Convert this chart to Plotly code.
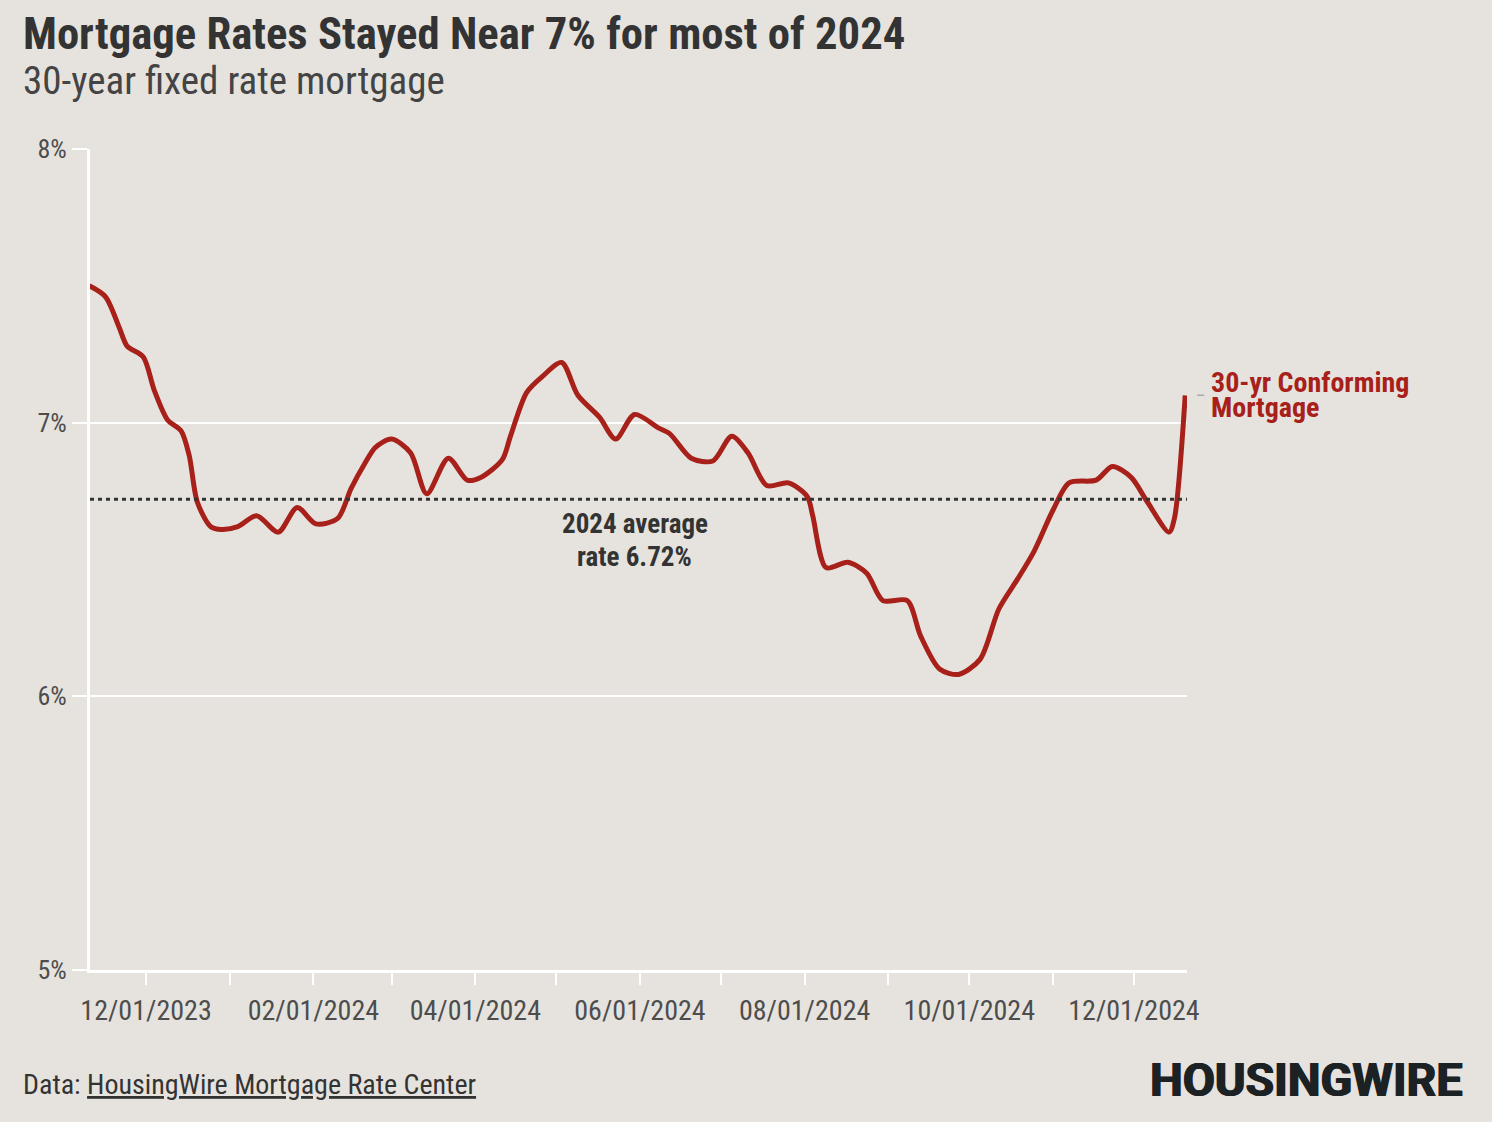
import plotly.graph_objects as go

# ---- data ----
dates = [
    "2023-11-10", "2023-11-16", "2023-11-21", "2023-11-24", "2023-11-30",
    "2023-12-04", "2023-12-09", "2023-12-14", "2023-12-17", "2023-12-20",
    "2023-12-25", "2023-12-29", "2024-01-04", "2024-01-11", "2024-01-19",
    "2024-01-26", "2024-02-02", "2024-02-10", "2024-02-15", "2024-02-20",
    "2024-02-24", "2024-03-01", "2024-03-08", "2024-03-14", "2024-03-22",
    "2024-03-29", "2024-04-03", "2024-04-11", "2024-04-14", "2024-04-20",
    "2024-04-26", "2024-05-03", "2024-05-09", "2024-05-17", "2024-05-23",
    "2024-05-30", "2024-06-08", "2024-06-12", "2024-06-20", "2024-06-28",
    "2024-07-05", "2024-07-11", "2024-07-18", "2024-07-26", "2024-08-02",
    "2024-08-04", "2024-08-09", "2024-08-17", "2024-08-24", "2024-08-30",
    "2024-09-08", "2024-09-13", "2024-09-20", "2024-09-27", "2024-10-05",
    "2024-10-12", "2024-10-19", "2024-10-25", "2024-11-01", "2024-11-07",
    "2024-11-17", "2024-11-23", "2024-11-30", "2024-12-06", "2024-12-14",
    "2024-12-16", "2024-12-20",
]
rates = [
    7.50, 7.46, 7.35, 7.28, 7.24,
    7.12, 7.01, 6.97, 6.88, 6.71,
    6.62, 6.61, 6.62, 6.66, 6.60,
    6.69, 6.63, 6.65, 6.76, 6.85,
    6.91, 6.94, 6.89, 6.74, 6.87,
    6.79, 6.80, 6.865, 6.95, 7.11,
    7.17, 7.22, 7.10, 7.02, 6.94,
    7.03, 6.98, 6.96, 6.87, 6.86,
    6.95, 6.89, 6.77, 6.78, 6.73,
    6.66, 6.47, 6.49, 6.45, 6.35,
    6.35, 6.22, 6.10, 6.08, 6.135,
    6.32, 6.43, 6.53, 6.68, 6.78,
    6.79, 6.84, 6.80, 6.71, 6.60,
    6.65, 7.10,
]
avg_2024 = 6.72
avg_label_lines = ["2024 average", "rate 6.72%"]

x_tick_vals = [
    "2023-12-01", "2024-01-01", "2024-02-01", "2024-03-01", "2024-04-01",
    "2024-05-01", "2024-06-01", "2024-07-01", "2024-08-01", "2024-09-01",
    "2024-10-01", "2024-11-01", "2024-12-01",
]
x_tick_text = [
    "12/01/2023", "", "02/01/2024", "", "04/01/2024", "", "06/01/2024", "",
    "08/01/2024", "", "10/01/2024", "", "12/01/2024",
]
y_tick_vals = [5, 6, 7, 8]
y_tick_text = ["5%", "6%", "7%", "8%"]

series_label_lines = ["30-yr Conforming", "Mortgage"]

# ---- style ----
BG = "#E6E3DE"
RED = "#A8201A"
DARK = "#333333"
TICK = "#4D4D4D"
FONT = "Roboto Condensed, Liberation Sans Narrow, Arial Narrow, Roboto, sans-serif"

fig = go.Figure()
fig.add_trace(go.Scatter(
    x=dates, y=rates, mode="lines",
    line=dict(color=RED, width=5, shape="spline", smoothing=0.8),
    hoverinfo="skip", showlegend=False,
))

fig.add_shape(type="line", xref="paper", x0=0, x1=1, yref="y", y0=avg_2024, y1=avg_2024,
              line=dict(color=DARK, width=3, dash="4px,4px"), layer="above")

fig.update_layout(
    width=1492, height=1122,
    paper_bgcolor=BG, plot_bgcolor=BG,
    margin=dict(l=90, r=305, t=149, b=152),
    font=dict(family=FONT, color=DARK),
    showlegend=False,
    xaxis=dict(
        type="date",
        range=["2023-11-10 06:00", "2024-12-20 16:00"],
        tickvals=x_tick_vals, ticktext=x_tick_text,
        ticks="outside", ticklen=12, tickwidth=2, tickcolor="white",
        showline=True, linecolor="white", linewidth=3,
        showgrid=False, zeroline=False,
        tickfont=dict(size=28, color=TICK, family=FONT),
        ticklabelstandoff=1,
    ),
    yaxis=dict(
        range=[5, 8],
        tickvals=y_tick_vals, ticktext=y_tick_text,
        ticks="outside", ticklen=15, tickwidth=2, tickcolor="white",
        showline=True, linecolor="white", linewidth=3,
        showgrid=True, gridcolor="white", gridwidth=2,
        zeroline=False,
        tickfont=dict(size=26, color=TICK, family=FONT),
        ticklabelstandoff=0,
    ),
)

PW, PH, L, T = 1097, 821, 90, 149


def px(x):
    return (x - L) / PW


def py(y):
    return (T + PH - y) / PH


annotations = [
    dict(text="<b>Mortgage Rates Stayed Near 7% for most of 2024</b>",
         xref="paper", yref="paper", x=px(21), y=py(34),
         xanchor="left", yanchor="middle", showarrow=False,
         font=dict(size=44.7, color=DARK, family=FONT)),
    dict(text="30-year fixed rate mortgage",
         xref="paper", yref="paper", x=px(21), y=py(81),
         xanchor="left", yanchor="middle", showarrow=False,
         font=dict(size=39, color="#444444", family=FONT)),
    dict(text="<b>" + avg_label_lines[0] + "</b>",
         xref="x", yref="y", x="2024-05-30", y=avg_2024,
         xanchor="center", yanchor="middle", yshift=-25, showarrow=False,
         font=dict(size=27, color=DARK, family=FONT)),
    dict(text="<b>" + avg_label_lines[1] + "</b>",
         xref="x", yref="y", x="2024-05-30", y=avg_2024,
         xanchor="center", yanchor="middle", yshift=-58, showarrow=False,
         font=dict(size=27, color=DARK, family=FONT)),
    # small connector tick next to the line end
    dict(text=" ",
         xref="x", yref="y", x=dates[-1], y=rates[-1],
         xanchor="left", yanchor="middle", showarrow=True,
         ax=27, ay=0, arrowhead=0, arrowwidth=1.5, arrowcolor="#AAAAAA",
         standoff=12, startstandoff=8,
         font=dict(size=10, color=RED, family=FONT)),
    dict(text="<b>" + series_label_lines[0] + "</b>",
         xref="x", yref="y", x=dates[-1], y=rates[-1],
         xanchor="left", yanchor="middle", xshift=24, yshift=13, showarrow=False,
         font=dict(size=28, color=RED, family=FONT)),
    dict(text="<b>" + series_label_lines[1] + "</b>",
         xref="x", yref="y", x=dates[-1], y=rates[-1],
         xanchor="left", yanchor="middle", xshift=24, yshift=-12, showarrow=False,
         font=dict(size=28, color=RED, family=FONT)),
    dict(text="Data: <span style='text-decoration:underline'>HousingWire Mortgage Rate Center</span>",
         xref="paper", yref="paper", x=px(21), y=py(1084),
         xanchor="left", yanchor="middle", showarrow=False,
         font=dict(size=28, color=DARK, family=FONT)),
    dict(text="<b>HOUSINGWIRE</b>",
         xref="paper", yref="paper", x=px(1465), y=py(1080),
         xanchor="right", yanchor="middle", showarrow=False,
         font=dict(size=46.5, color="#1C2124", family="Roboto, sans-serif", weight=900,
                   shadow="0.8px 0 0 #1C2124, -0.8px 0 0 #1C2124")),
]
fig.update_layout(annotations=annotations)

fig.write_html(
    "out.html",
    config={"displayModeBar": False},
    post_script="document.body.style.margin='0';document.body.style.background='#E6E3DE';",
)
